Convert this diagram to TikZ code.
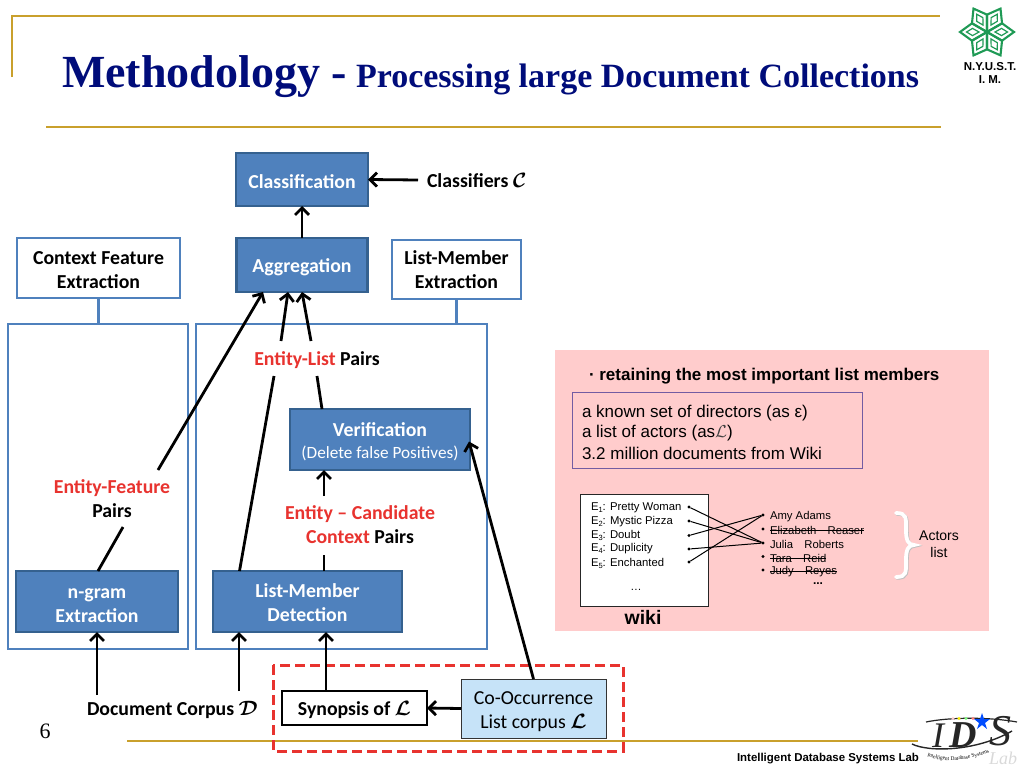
\documentclass[tikz,border=0pt]{standalone}
\usepackage{fontspec}
\setmainfont{Carlito}
\newfontfamily\libs{Liberation Sans}
\newfontfamily\libr{Liberation Serif}
\usetikzlibrary{arrows.meta,calc,decorations.text}
\definecolor{gold}{HTML}{C9A02C}
\definecolor{navy}{HTML}{000C7A}
\definecolor{bfill}{HTML}{4F81BD}
\definecolor{bdark}{HTML}{35618F}
\definecolor{lblue}{HTML}{C6E3F8}
\definecolor{rd}{HTML}{E8332F}
\definecolor{pink}{HTML}{FFCCCC}
\definecolor{grn}{HTML}{1F9A55}
\newcommand{\sbs}[1]{\raisebox{-2pt}{\fontsize{7.5}{8}\selectfont #1}}
\newcommand{\stq}{\rule{0pt}{17.6pt}}
\tikzset{
 x=1pt,y=-1pt,
 every node/.style={inner sep=0pt,outer sep=0pt,align=center,font=\fontsize{19.8}{24}\selectfont},
 bluebox/.style={draw=bdark,line width=2.2pt,fill=bfill,text=white,font=\fontsize{19.8}{24}\selectfont\bfseries},
 whitebox/.style={draw=bfill,line width=2.4pt,fill=white,font=\fontsize{19.8}{24}\selectfont\bfseries},
 frame/.style={draw=bfill,line width=2.4pt},
 lab/.style={font=\fontsize{19.8}{24}\selectfont\bfseries},
 conn/.style={line width=2.8pt,black},
 arr/.style={conn,-{Straight Barb[length=7pt,width=14pt,line width=2.8pt]}},
 goldline/.style={draw=gold,line width=1.8pt},
 ln/.style={black,line width=1pt},
 dotn/.style={circle,fill=black,minimum size=3.2pt},
 small/.style={font=\fontsize{11.3}{13.5}\selectfont\libs,anchor=west},
 pinktext/.style={font=\fontsize{17}{20}\selectfont\libs},
}
\begin{document}
\begin{tikzpicture}
\useasboundingbox (0,0) rectangle (1024,768);
% rules
\draw[goldline] (12,77) -- (12,16) -- (940,16);
\draw[goldline] (46,127) -- (941,127);
\draw[goldline] (127,741) -- (918,741);
% title
\node[anchor=base west,text=navy,font=\fontsize{46}{50}\selectfont\libr\bfseries] (t1) at (62,87) {Methodology -};
\node[anchor=base west,text=navy,font=\fontsize{34}{38}\selectfont\libr\bfseries] (t2) at (356,87) {Processing large Document Collections};
% logo top right
\begin{scope}[shift={(987,32)}]
\foreach \a in {0,60,120,180,240,300}{
 \begin{scope}[rotate=\a]
 \draw[grn,line width=2.1pt,line join=miter] (0,0) -- (15,-8.7) -- (27,0) -- (15,8.7) -- cycle;
 \draw[grn,line width=1.2pt] (8,0) -- (14.5,-3.6) -- (20.5,0) -- (14.5,3.6) -- cycle;
 \end{scope}}
\end{scope}
\node[font=\fontsize{11.5}{13}\selectfont\libs\bfseries] (ny) at (990,73) {N.Y.U.S.T.\\I. M.};
% containers
\draw[frame] (8,324) rectangle (188,649);
\draw[frame] (196,324) rectangle (487,649);
% boxes
\node[bluebox,minimum width=132pt,minimum height=53pt] (cls) at (302,179.5) {\stq Classification};
\node[bluebox,minimum width=131pt,minimum height=54pt] (agg) at (302,265) {\stq Aggregation};
\node[whitebox,minimum width=163pt,minimum height=60pt] (cfe) at (98.5,268) {\rule{0pt}{16.4pt}Context Feature\\Extraction};
\node[whitebox,minimum width=129pt,minimum height=59pt] (lme) at (456.5,269.5) {List-Member\\Extraction};
\draw[frame] (cfe.south) -- (cfe.south |- 0,324);
\draw[frame] (lme.south) -- (lme.south |- 0,324);
\node[bluebox,minimum width=180pt,minimum height=61pt] (ver) at (380,439.5) {\rule{0pt}{18.6pt}Verification\\[-2pt]{\fontsize{17.2}{20}\selectfont\mdseries (Delete false Positives)}};
\node[bluebox,minimum width=162pt,minimum height=61pt] (ngr) at (97,601.5) {\stq n-gram\\Extraction};
\node[bluebox,minimum width=189pt,minimum height=61pt] (lmd) at (307.5,601.5) {\rule{0pt}{16.4pt}List-Member\\Detection};
% dashed
\draw[rd,line width=3pt,dash pattern=on 10pt off 5pt] (273,665) rectangle (623,751);
\node[draw=black,line width=2.8pt,fill=white,minimum width=145pt,minimum height=34pt,lab] (syn) at (354.5,708) {\stq Synopsis of {\boldmath$\mathcal{L}$}};
\node[draw=black!80,line width=.9pt,fill=lblue,minimum width=145pt,minimum height=59pt] (coo) at (533.5,708.5) {\rule{0pt}{18.6pt}Co-Occurrence\\List corpus {\boldmath$\mathcal{L}$}};
% labels
\node[lab,anchor=west] (clf) at (427,180) {Classifiers {\boldmath$\mathcal{C}$}};
\node[lab] (elp) at (317,360) {\textcolor{rd}{Entity-List} Pairs};
\node[lab] (efp) at (112,499) {\textcolor{rd}{Entity-Feature}\\Pairs};
\node[lab] (ecc) at (360,525) {\textcolor{rd}{Entity -- Candidate}\\\textcolor{rd}{Context} Pairs};
\node[lab,anchor=west] (doc) at (87,710) {Document Corpus {\boldmath$\mathcal{D}$}};
\coordinate (docA) at (97,695);
\coordinate (docB) at (239,691);
% connectors
\draw[arr] (clf.west -| 418,0) -- (cls.east);
\draw[arr] (agg.north) -- (cls.south);
\draw[conn] ($(ngr.north)+(1,0)$) -- (123,527);
\draw[arr] (158,470) -- ($(agg.south)+(-39,0)$);
\draw[conn] ($(lmd.north)+(-68,0)$) -- (274,376);
\draw[arr] (281,341) -- ($(agg.south)+(-14,0)$);
\draw[conn] ($(ver.north)+(-58,0)$) -- (317,376);
\draw[arr] (311,341) -- ($(agg.south)+(0,0)$);
\draw[arr] (324,496) -- (ver.south -| 324,0);
\draw[conn] (lmd.north -| 324,0) -- (324,555);
\draw[arr] (syn.north -| 326,0) -- (lmd.south -| 326,0);
\draw[arr] (docA) -- (ngr.south -| 97,0);
\draw[arr] (docB) -- (lmd.south -| 239,0);
\draw[arr] (coo.west) -- (syn.east);
\draw[arr] ($(coo.north)+(0,0)$) -- ($(ver.east)+(-1,2)$);
% pink panel
\fill[pink] (555,350) rectangle (989,631);
\node[anchor=west,font=\fontsize{17}{20}\selectfont\libs\bfseries] (ret) at (589,376) {{\textperiodcentered} retaining the most important list members};
\node[draw=black!50!blue!55!pink,line width=1pt,minimum width=290pt,minimum height=76pt] (know) at (717,430) {};
\node[pinktext,anchor=west] (kn1) at (582,413) {a known set of directors (as ε)};
\node[pinktext,anchor=west] (kn2) at (582,433.5) {a list of actors (as{\color{black!75}$\mathcal{L}$})};
\node[pinktext,anchor=west] (kn3) at (582,453) {3.2 million documents from Wiki};
\node[draw=black!85,line width=1pt,fill=white,minimum width=128pt,minimum height=112pt] (wiki) at (644,550) {};
\node[font=\fontsize{19.5}{22}\selectfont\libs\bfseries] (wl) at (643,617) {wiki};
\node[small] (e1) at (591,508) {E\sbs{1}: Pretty Woman};
\node[small] (e2) at (591,522) {E\sbs{2}: Mystic Pizza};
\node[small] (e3) at (591,535.5) {E\sbs{3}: Doubt};
\node[small] (e4) at (591,549) {E\sbs{4}: Duplicity};
\node[small] (e5) at (591,563) {E\sbs{5}: Enchanted};
\node[small,anchor=center] (edots) at (636,590) {\dots};
\node[small] (a1) at (770,517) {Amy Adams};
\node[small] (a2) at (770,530.5) {Elizabeth\hspace{8pt} Reaser};
\node[small] (a3) at (770,544) {Julia\hspace{8pt} Roberts};
\node[small] (a4) at (770,558) {Tara\hspace{8pt} Reid};
\node[small] (a5) at (770,571.5) {Judy\hspace{8pt} Reyes};
\node[small,anchor=center,font=\fontsize{12}{14}\selectfont\libs\bfseries] (adots) at (818,584) {...};
\draw[ln] (a2.west) -- (a2.east);
\draw[ln] (a4.west) -- (a4.east);
\draw[ln] (a5.west) -- (a5.east);
\foreach \n/\y in {d1/507,d2/521,d3/535.5,d4/549,d5/562}{\node[dotn] (\n) at (689,\y) {};}
\foreach \n/\y in {b1/515,b2/529,b3/543,b4/556.5,b5/570}{\node[dotn] (\n) at (763,\y) {};}
\draw[ln] (d1) -- (b3);
\draw[ln] (d2) -- (b3);
\draw[ln] (d3) -- (b1);
\draw[ln] (d4) -- (b3);
\draw[ln] (d5) -- (b1);
\path[draw=black!25,line width=3.8pt,line cap=round,shift={(.8,.8)}] (896,513) .. controls (907,513) and (906,518) .. (906,530) .. controls (906,540) and (908,545) .. (914,545) .. controls (908,545) and (906,550) .. (906,560) .. controls (906,572) and (907,577) .. (896,577);
\path[draw=white,line width=3.8pt,line cap=round] (896,513) .. controls (907,513) and (906,518) .. (906,530) .. controls (906,540) and (908,545) .. (914,545) .. controls (908,545) and (906,550) .. (906,560) .. controls (906,572) and (907,577) .. (896,577);
\node[font=\fontsize{14}{17}\selectfont\libs] (act) at (939,544.5) {Actors\\list};
% footer
\node[font=\fontsize{22}{26}\selectfont\libr] (pg) at (45,731) {6};
\node[anchor=west,font=\fontsize{11.45}{13}\selectfont\libs\bfseries] (lab) at (737,759) {Intelligent Database Systems Lab};
% IDS logo
\node[anchor=base,text depth=0pt,font=\fontsize{36}{38}\selectfont\libr\itshape,text=black!85] (ids1) at (938,747) {I};
\node[anchor=base,text depth=0pt,font=\fontsize{38}{42}\selectfont\libr\itshape\bfseries,text=black!85] (ids2) at (963,747) {D};
\node[anchor=base,text depth=0pt,font=\fontsize{44}{48}\selectfont\libr\itshape,text=black!85] (ids3) at (1000,745) {S};
\draw[black!85,line width=1.2pt] (926,722) .. controls (950,717) and (990,717) .. (1017,722);
\draw[black!85,line width=1.4pt] (912,744) .. controls (928,752) and (975,752) .. (1012,731);
\foreach \x/\c in {953/pink,959/yellow,966/green!50,973/red!50}{\fill[\c] (\x,718.5) circle (1.6pt);}
\fill[blue!70!cyan] (982,713) -- (984,719) -- (990,719) -- (985,723) -- (987,729) -- (982,725) -- (977,729) -- (979,723) -- (974,719) -- (980,719) -- cycle;
\path[decorate,decoration={text along path,text align=center,text={|\fontsize{5.5}{6}\selectfont\libr|Intelligent Database Systems}}] (917,750) .. controls (935,766) and (975,762) .. (1000,747);
\node[text depth=0pt,font=\fontsize{18}{18}\selectfont\libr\itshape,text=black!15] (lb) at (1003,758) {Lab};
\end{tikzpicture}
\end{document}
